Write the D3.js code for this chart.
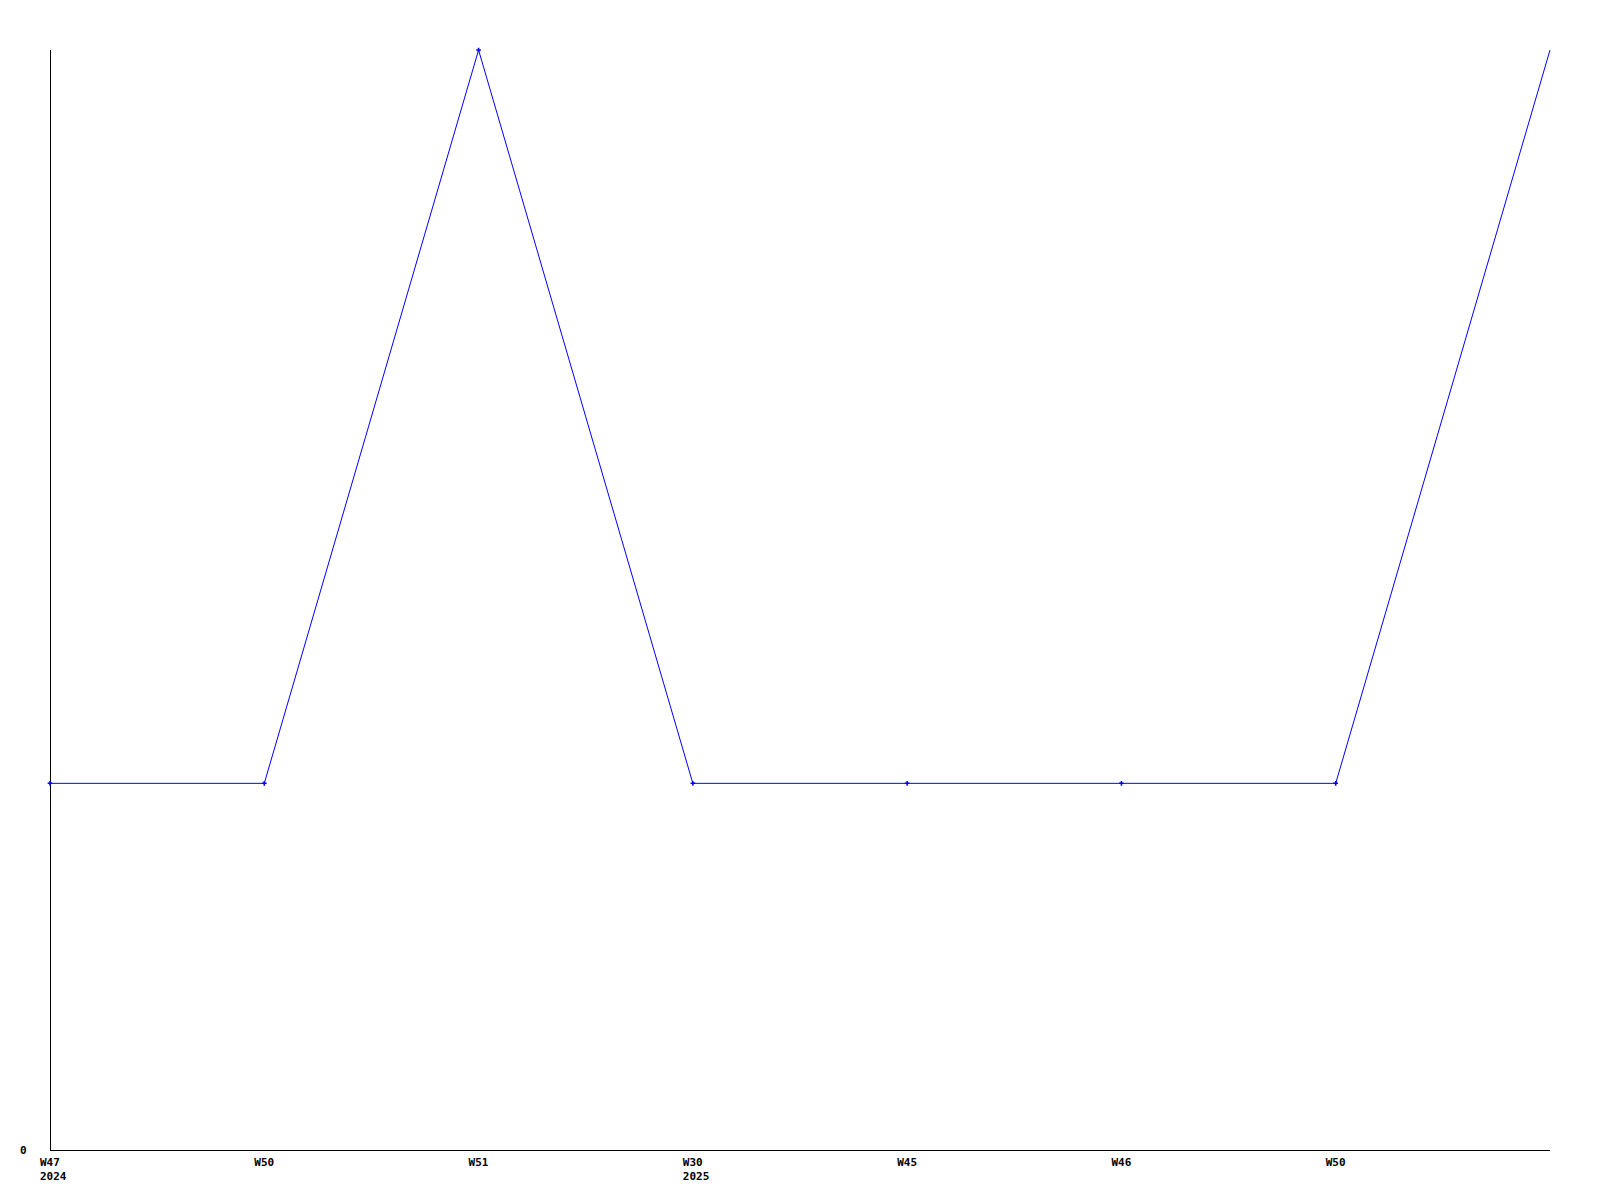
<!DOCTYPE html>
<html><head><meta charset="utf-8">
<script src="https://cdn.jsdelivr.net/npm/d3@7"></script>
<style>body{margin:0;background:#fff}svg{display:block}text{font-family:"DejaVu Sans Mono",monospace;font-weight:bold;font-size:11px;fill:#000}</style>
</head><body>
<script>
const weeks = ["W47","W50","W51","W30","W45","W46","W50",""];
const years = ["2024","","","2025","","","",""];
const values = [1,1,3,1,1,1,1,3];
const yTicks = [0];

const W=1600,H=1200,m={l:50,r:50,t:50,b:50};
const svg=d3.select("body").append("svg").attr("width",W).attr("height",H);
const x=d3.scaleLinear().domain([0,values.length-1]).range([m.l,W-m.r]);
const y=d3.scaleLinear().domain([0,d3.max(values)]).range([H-m.b,m.t]);

svg.append("line").attr("x1",x(0)+0.5).attr("x2",x(0)+0.5).attr("y1",m.t).attr("y2",H-m.b).attr("stroke","#000");
svg.append("line").attr("x1",x(0)).attr("x2",W-m.r).attr("y1",H-m.b+0.5).attr("y2",H-m.b+0.5).attr("stroke","#000");

yTicks.forEach(t=>svg.append("text").attr("x",20).attr("y",y(t)+4).text(t));

weeks.forEach((w,i)=>{
  if(w) svg.append("text").attr("x",x(i)-10).attr("y",H-m.b+16).text(w);
  if(years[i]) svg.append("text").attr("x",x(i)-10).attr("y",H-m.b+30).text(years[i]);
});

svg.append("path").datum(values).attr("fill","none").attr("stroke","#0000ff").attr("stroke-width",1)
  .attr("d",d3.line().x((d,i)=>x(i)).y(d=>y(d)));
svg.selectAll(".pt").data(values.slice(0,-1)).enter().append("path")
  .attr("transform",(d,i)=>`translate(${x(i)},${y(d)})`)
  .attr("d",d3.symbol(d3.symbolCross,12)).attr("fill","#0000ff");
</script>
</body></html>
